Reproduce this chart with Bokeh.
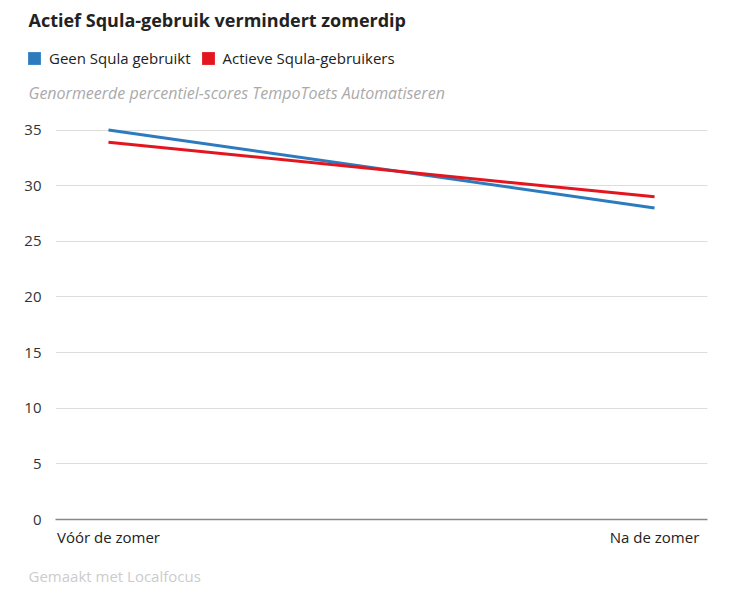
from bokeh.plotting import figure
from bokeh.layouts import column
from bokeh.models import Label, Legend, LegendItem, FixedTicker, Range1d, Title
from bokeh.embed import file_html
from bokeh.resources import INLINE

periods = ["Vóór de zomer", "Na de zomer"]
geen_squla = [35.0, 28.0]
actieve_squla = [33.9, 29.0]
y_ticks = [0, 5, 10, 15, 20, 25, 30, 35]
series_names = ["Geen Squla gebruikt", "Actieve Squla-gebruikers"]
series_colors = ["#2d7bbf", "#e3151f"]

FONT = "Open Sans"
xs = list(range(len(periods)))
NAN = float("nan")

# ---------- header (title, legend, subtitle) ----------
HEAD_H = 118
head = figure(width=722, height=HEAD_H, output_backend="svg", toolbar_location=None,
              x_range=Range1d(0, 1), y_range=Range1d(0, 1),
              x_axis_type=None, y_axis_type=None, min_border=0,
              outline_line_color=None)
if "frame_align" in head.properties():
    head.frame_align = False
head.xgrid.grid_line_color = None
head.ygrid.grid_line_color = None

k1 = head.quad(left=[NAN], right=[NAN], top=[NAN], bottom=[NAN],
               fill_color=series_colors[0], line_color=None)
k2 = head.quad(left=[NAN], right=[NAN], top=[NAN], bottom=[NAN],
               fill_color=series_colors[1], line_color=None)

legend = Legend(items=[LegendItem(label=series_names[0], renderers=[k1]),
                       LegendItem(label=series_names[1], renderers=[k2])],
                orientation="horizontal", location=(26, 50),
                label_text_font=FONT, label_text_font_size="15px",
                label_text_color="#222222", glyph_width=16, glyph_height=16,
                spacing=9, padding=0, margin=0, label_standoff=7,
                border_line_color=None, background_fill_alpha=0)
head.add_layout(legend, "center")

def hlab(text, x_px, y_px, size, color, style="normal"):
    head.add_layout(Label(x=x_px, y=HEAD_H - y_px, x_units="screen", y_units="screen",
                          text=text, text_font=FONT, text_font_size=size,
                          text_color=color, text_font_style=style,
                          text_baseline="middle"))

hlab("Actief Squla-gebruik vermindert zomerdip", 28, 19, "18px", "#222222", "bold")
hlab("Genormeerde percentiel-scores TempoToets Automatiseren", 28, 92, "16px", "#aaaaaa", "italic")

# ---------- main chart ----------
p = figure(width=722, height=482, output_backend="svg", toolbar_location=None,
           x_range=Range1d(-0.097, 1.097), y_range=Range1d(0, 35.5),
           min_border_left=55, min_border_right=15, min_border_top=6,
           min_border_bottom=20, outline_line_color=None)

p.line(xs, geen_squla, line_color=series_colors[0], line_width=3)
p.line(xs, actieve_squla, line_color=series_colors[1], line_width=3)

p.xaxis.ticker = FixedTicker(ticks=xs)
p.xaxis.major_label_overrides = {i: lab for i, lab in enumerate(periods)}
p.xaxis.major_tick_line_color = None
p.xaxis.minor_tick_line_color = None
p.xaxis.axis_line_color = "#888888"
p.xaxis.axis_line_width = 1.5
p.xaxis.major_label_text_font = FONT
p.xaxis.major_label_text_font_size = "15px"
p.xaxis.major_label_text_color = "#222222"
p.xaxis.major_label_standoff = 1

p.yaxis.ticker = FixedTicker(ticks=y_ticks)
p.yaxis.axis_line_color = None
p.yaxis.major_tick_line_color = None
p.yaxis.minor_tick_line_color = None
p.yaxis.major_label_text_font = FONT
p.yaxis.major_label_text_font_size = "15px"
p.yaxis.major_label_text_color = "#333333"
p.yaxis.major_label_standoff = 8

p.xgrid.grid_line_color = None
p.ygrid.grid_line_color = "#dddddd"
p.ygrid.grid_line_width = 1

footer = Title(text="Gemaakt met Localfocus", align="left", offset=-27,
               text_font=FONT, text_font_size="15px", text_color="#cccccc",
               text_font_style="normal", standoff=29)
p.add_layout(footer, "below")

layout = column(head, p, spacing=0)
open("out.html", "w").write(file_html(layout, INLINE))
